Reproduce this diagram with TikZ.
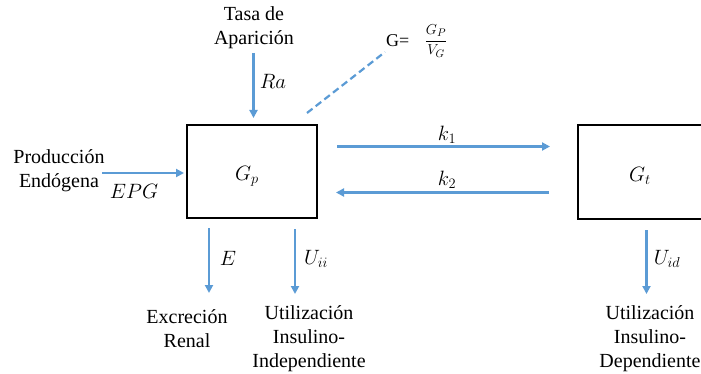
\documentclass[tikz,border=0pt]{standalone}
\usepackage{fontspec}
\setmainfont{Liberation Serif}
\usetikzlibrary{arrows.meta}
\definecolor{arrowblue}{HTML}{5B9BD5}
\tikzset{
  flow/.style={draw=arrowblue, line width=2.2pt, -{Triangle[length=8pt,width=8pt]}},
  dashlink/.style={draw=arrowblue, line width=2.2pt, dash pattern=on 7pt off 4pt},
  compbox/.style={draw, line width=2pt, minimum width=130pt, minimum height=93pt, inner sep=0},
  txt/.style={font=\rmfamily\fontsize{20}{24}\selectfont, align=center, inner sep=0},
  lbl/.style={font=\fontsize{19.5}{22}\selectfont, inner sep=0},
}
\begin{document}
\begin{tikzpicture}[x=1pt,y=-1pt]
\useasboundingbox (0,0) rectangle (701,374);
% boxes
\node[compbox] (gp) at (251.5,171.5) {};
\node[compbox, minimum width=131pt] (gt) at (643,172) {};
\node[lbl] (gplbl) at (247,176) {$G_p$};
\node[lbl] (gtlbl) at (640,176) {$G_t$};
% texts (base anchor = baseline of last line)
\node[txt, anchor=base] (tasa) at (254,45) {Tasa de\\Aparición};
\node[txt, anchor=base] (prod) at (59,188) {Producción\\Endógena};
\node[txt, anchor=base] (excr) at (187,347) {Excreción\\Renal};
\node[txt, anchor=base] (uind) at (309,367) {Utilización\\Insulino-\\Independiente};
\node[txt, anchor=base] (udep) at (650,367) {Utilización\\Insulino-\\Dependiente};
\node[font=\rmfamily\fontsize{18}{21}\selectfont, inner sep=0, anchor=base west] (geq) at (386,47) {G=};
\node[font=\fontsize{15}{18}\selectfont, inner sep=0] (gfrac) at (436,41) {$\displaystyle\frac{G_P\strut}{\strut V_G}$};
% labels
\node[lbl] (ra) at (273,81) {$Ra$};
\node[lbl] (epg) at (134,191) {$EPG$};
\node[lbl] (k1) at (447,135) {$k_1$};
\node[lbl] (k2) at (447,180) {$k_2$};
\node[lbl] (e) at (228,258) {$E$};
\node[lbl] (uii) at (316,259) {$U_{ii}$};
\node[lbl] (uid) at (667,259) {$U_{id}$};
% coordinates
\coordinate (raS) at (253.5,53);
\coordinate (raE) at (253.5,118);
\coordinate (epgS) at (102,173);
\coordinate (epgE) at (184,173);
\coordinate (k1S) at (337,146.5);
\coordinate (k1E) at (550,146.5);
\coordinate (k2S) at (549,192.5);
\coordinate (k2E) at (336,192.5);
\coordinate (eS) at (209,228);
\coordinate (eE) at (209,293);
\coordinate (uiiS) at (295,229);
\coordinate (uiiE) at (295,294);
\coordinate (uidS) at (646.5,230);
\coordinate (uidE) at (646.5,294);
\coordinate (dS) at (307,113);
\coordinate (dE) at (385,52);
% connectors
\draw[flow] (raS) -- (raE);
\draw[flow] (epgS) -- (epgE);
\draw[flow] (k1S) -- (k1E);
\draw[flow] (k2S) -- (k2E);
\draw[flow] (eS) -- (eE);
\draw[flow] (uiiS) -- (uiiE);
\draw[flow] (uidS) -- (uidE);
\draw[dashlink] (dS) -- (dE);
\end{tikzpicture}
\end{document}
